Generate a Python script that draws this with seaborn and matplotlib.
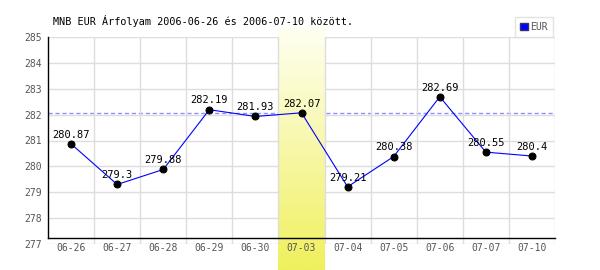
import numpy as np
import pandas as pd
import matplotlib
matplotlib.use("Agg")
import matplotlib.pyplot as plt
import matplotlib.transforms as mtransforms
from matplotlib.patches import Patch
import seaborn as sns

# ---- data ----
dates = ["06-26", "06-27", "06-28", "06-29", "06-30", "07-03",
         "07-04", "07-05", "07-06", "07-07", "07-10"]
values = [280.87, 279.3, 279.88, 282.19, 281.93, 282.07,
          279.21, 280.38, 282.69, 280.55, 280.4]
series_name = "EUR"
highlight = "07-03"
title = "MNB EUR Árfolyam 2006-06-26 és 2006-07-10 között."
y_ticks = [277, 278, 279, 280, 281, 282, 283, 284, 285]

sns.set_theme(style="white")
plt.rcParams["font.family"] = ["DejaVu Sans Mono", "DejaVu Sans"]

df = pd.DataFrame({"pos": np.arange(len(dates)), "date": dates, "value": values})
hi = dates.index(highlight)

fig = plt.figure(figsize=(6.0, 2.7), dpi=100)
ax = fig.add_axes([48 / 600, 26 / 270, 507 / 600, 207 / 270])

# dashed reference line at the highlighted day's value
ax.axhline(values[hi], color="#8f8fff", lw=1.0, ls=(0, (3, 2)), zorder=1)

# gradient highlight band
grad_top = np.array([255, 255, 242]) / 255
grad_bot = np.array([240, 240, 95]) / 255
t = np.linspace(0, 1, 64)[:, None, None]
img = grad_top * (1 - t) + grad_bot * t
trans = mtransforms.blended_transform_factory(ax.transData, ax.transAxes)
ax.imshow(img, extent=(hi - 0.5, hi + 0.5, -0.1256, 1.0435), transform=trans,
          aspect="auto", origin="upper", interpolation="bilinear",
          clip_on=False, zorder=1.5)

# data line
sns.lineplot(data=df, x="pos", y="value", ax=ax, color="blue", lw=0.8,
             marker="o", markersize=5, markerfacecolor="black",
             markeredgecolor="black", zorder=2)
for i, v in enumerate(values):
    ax.annotate(f"{v:g}", (i, v), xytext=(0, 4.5), textcoords="offset points",
                ha="center", va="baseline", fontsize=7.5, color="black", zorder=4)

ax.set_xlim(-0.5, len(dates) - 0.5)
ax.set_ylim(y_ticks[0], y_ticks[-1])
ax.set_xticks(np.arange(len(dates)))
ax.set_xticklabels(dates)
ax.set_xticks(np.arange(len(dates)) + 0.5, minor=True)
ax.set_yticks(y_ticks)
ax.set_xlabel("")
ax.set_ylabel("")

ax.grid(False)
ax.yaxis.grid(True, which="major", color="#dddddd", lw=1)
ax.xaxis.grid(True, which="minor", color="#dddddd", lw=1)
ax.xaxis.set_zorder(1.8)
ax.yaxis.set_zorder(0.5)

ax.tick_params(axis="x", which="both", length=0, pad=3.9, labelsize=7, labelcolor="#555555")
ax.tick_params(axis="y", length=0, pad=4.3, labelsize=7, labelcolor="#555555")

for s in ["top", "right"]:
    ax.spines[s].set_visible(False)
ax.spines["left"].set_color("black")
ax.spines["left"].set_linewidth(1)
ax.spines["bottom"].set_color("black")
ax.spines["bottom"].set_linewidth(1)
ax.spines["bottom"].set_position(("data", 277.23))
ax.spines["left"].set_bounds(277.23, y_ticks[-1])

fig.text(53 / 600, 1 - 21 / 270, title, ha="left", va="center",
         fontsize=7.3, color="black")

leg = ax.legend(handles=[Patch(facecolor="blue", edgecolor="#333366")],
                labels=[series_name], loc="upper right",
                bbox_to_anchor=(553 / 600, 1 - 17 / 270),
                bbox_transform=fig.transFigure, fontsize=7,
                handlelength=0.8, handleheight=0.8, handletextpad=0.3,
                borderpad=0.5, borderaxespad=0, fancybox=False, frameon=True)
leg.get_frame().set_edgecolor("#dddddd")
leg.get_frame().set_linewidth(1)
for txt in leg.get_texts():
    txt.set_color("#555555")

fig.savefig("out.png", dpi=100, facecolor="white")
